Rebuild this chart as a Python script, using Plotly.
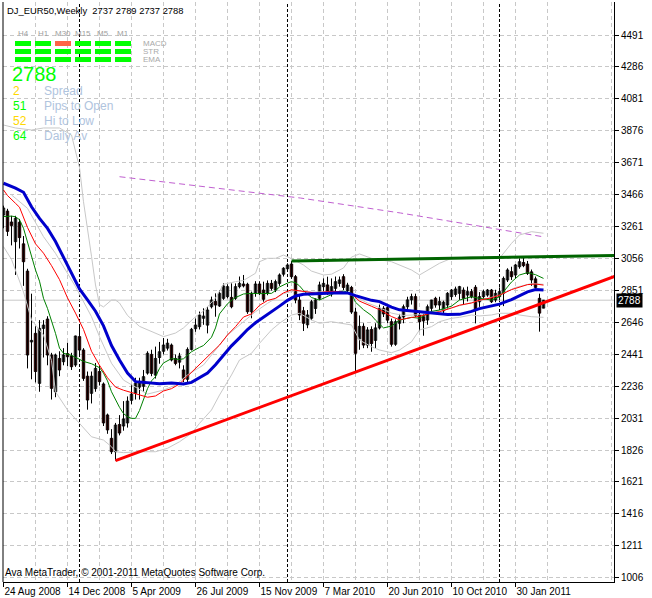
import plotly.graph_objects as go

# ---------------- data ----------------
symbol = "DJ_EUR50"
period = "Weekly"
x_label_bars = [0, 16, 32, 48, 64, 80, 96, 112, 128]
x_labels = ["24 Aug 2008", "14 Dec 2008", "5 Apr 2009", "26 Jul 2009", "15 Nov 2009",
            "7 Mar 2010", "20 Jun 2010", "10 Oct 2010", "30 Jan 2011"]
grid_bars = [8, 24, 40, 56, 72, 88, 104, 120, 136, 152]
y_ticks = [1006, 1211, 1416, 1621, 1826, 2031, 2236, 2441, 2646, 2851, 3056, 3261,
           3466, 3671, 3876, 4081, 4286, 4491]
year_sep_bars = [19, 71, 124]

opens = [3335, 3360, 3290, 3164, 3288, 3150, 2975, 2520, 2575, 2254,
         2607, 2667, 2436, 2200, 2414, 2393, 2445, 2430, 2372, 2554,
         2468, 2300, 2190, 2220, 2330, 2250, 2051, 1901, 1815, 1990,
         1980, 2000, 2145, 2190, 2230, 2235, 2320, 2440, 2307, 2420,
         2460, 2480, 2500, 2414, 2390, 2340, 2280, 2472, 2605, 2618,
         2672, 2628, 2746, 2780, 2751, 2800, 2811, 2806, 2800, 2875,
         2892, 2890, 2714, 2832, 2892, 2853, 2832, 2896, 2853, 2896,
         2955, 2990, 3020, 2939, 2789, 2720, 2630, 2672, 2735, 2800,
         2875, 2886, 2843, 2864, 2896, 2939, 2850, 2870, 2712, 2540,
         2620, 2500, 2600, 2530, 2610, 2736, 2740, 2650, 2505, 2640,
         2680, 2746, 2790, 2811, 2693, 2682, 2661, 2736, 2800, 2757,
         2720, 2757, 2811, 2825, 2832, 2853, 2821, 2843, 2871, 2778,
         2811, 2821, 2853, 2789, 2811, 2832, 2918, 2971, 2950, 3003,
         3030, 3020, 2970, 2925, 2800, 2737]
highs = [3395, 3375, 3330, 3330, 3310, 3200, 2990, 2830, 2620, 2660,
         2660, 2685, 2450, 2445, 2460, 2480, 2515, 2450, 2560, 2618,
         2480, 2330, 2330, 2385, 2370, 2260, 2060, 1960, 2000, 2050,
         2140, 2170, 2250, 2290, 2290, 2340, 2460, 2470, 2490, 2520,
         2545, 2540, 2510, 2440, 2450, 2370, 2485, 2610, 2670, 2715,
         2736, 2746, 2811, 2832, 2853, 2896, 2890, 2896, 2896, 2940,
         2950, 2900, 2843, 2910, 2910, 2907, 2915, 2918, 2920, 2960,
         3000, 3025, 3039, 2950, 2820, 2745, 2725, 2790, 2800, 2907,
         2928, 2939, 2928, 2940, 2940, 2955, 2900, 2880, 2740, 2690,
         2640, 2615, 2620, 2640, 2760, 2750, 2760, 2670, 2665, 2700,
         2760, 2810, 2830, 2830, 2720, 2700, 2760, 2790, 2810, 2810,
         2785, 2840, 2860, 2875, 2880, 2870, 2875, 2860, 2885, 2840,
         2855, 2860, 2860, 2855, 2870, 2940, 2993, 3003, 3020, 3057,
         3065, 3040, 2985, 2940, 2830, 2789]
lows = [3250, 3200, 3140, 2950, 3120, 2880, 2350, 2280, 2260, 2200,
        2420, 2370, 2150, 2165, 2300, 2370, 2365, 2340, 2360, 2440,
        2270, 2085, 2125, 2200, 2240, 1980, 1930, 1800, 1758, 1920,
        1950, 1970, 2120, 2150, 2150, 2200, 2310, 2300, 2285, 2380,
        2440, 2465, 2395, 2370, 2350, 2262, 2255, 2465, 2585, 2600,
        2630, 2575, 2735, 2682, 2745, 2790, 2800, 2736, 2790, 2864,
        2870, 2700, 2672, 2810, 2820, 2778, 2820, 2850, 2840, 2880,
        2940, 2970, 2925, 2768, 2660, 2590, 2608, 2660, 2700, 2790,
        2843, 2822, 2811, 2843, 2875, 2853, 2830, 2700, 2330, 2470,
        2480, 2480, 2457, 2480, 2600, 2680, 2640, 2490, 2495, 2600,
        2640, 2720, 2760, 2680, 2590, 2560, 2630, 2715, 2740, 2725,
        2700, 2730, 2790, 2810, 2790, 2760, 2780, 2800, 2639, 2745,
        2800, 2810, 2770, 2775, 2790, 2750, 2905, 2918, 2930, 2990,
        3000, 2950, 2880, 2850, 2586, 2737]
closes = [3380, 3230, 3268, 3314, 3190, 3035, 2436, 2530, 2330, 2607,
          2628, 2436, 2222, 2436, 2340, 2436, 2425, 2361, 2558, 2468,
          2286, 2147, 2300, 2350, 2265, 2000, 1955, 1815, 1986, 1935,
          2025, 2140, 2185, 2255, 2262, 2297, 2447, 2318, 2414, 2457,
          2500, 2512, 2404, 2382, 2430, 2285, 2472, 2601, 2628, 2693,
          2686, 2725, 2789, 2757, 2832, 2879, 2875, 2746, 2875, 2896,
          2880, 2714, 2832, 2892, 2832, 2794, 2896, 2864, 2907, 2950,
          2993, 3014, 2939, 2789, 2693, 2640, 2693, 2778, 2790, 2886,
          2896, 2843, 2875, 2907, 2918, 2870, 2885, 2712, 2447, 2620,
          2500, 2597, 2510, 2610, 2736, 2700, 2660, 2505, 2650, 2680,
          2746, 2790, 2811, 2690, 2650, 2655, 2746, 2789, 2757, 2779,
          2775, 2832, 2853, 2860, 2875, 2800, 2843, 2810, 2725, 2811,
          2843, 2853, 2778, 2832, 2843, 2928, 2982, 2939, 3014, 3035,
          3010, 2960, 2918, 2870, 2705, 2788]

# indicator lines (bar index, price)
blue_bars = [0, 3, 5, 7, 9, 11, 13, 15, 17, 19, 21, 23, 25, 27, 29, 31, 33, 36, 39, 42, 45, 47,
             49, 51, 53, 55, 57, 59, 61, 63, 65, 67, 69, 71, 73, 75, 78, 81, 84, 86, 88, 90,
             92, 94, 97, 99, 102, 105, 108, 111, 114, 117, 119, 122, 124, 127, 129, 131, 133, 135]
blue_vals = [3539, 3508, 3481, 3388, 3313, 3249, 3165, 3062, 2958, 2860, 2790, 2717, 2623, 2497,
             2404, 2320, 2265, 2256, 2251, 2256, 2250, 2260, 2290, 2320, 2373, 2437, 2495, 2546,
             2600, 2643, 2678, 2711, 2750, 2787, 2815, 2826, 2827, 2832, 2836, 2835, 2817, 2801,
             2787, 2779, 2743, 2726, 2718, 2712, 2706, 2696, 2697, 2716, 2734, 2752, 2763, 2792,
             2818, 2842, 2857, 2853]
red_bars = [0, 1, 3, 4, 6, 8, 10, 12, 14, 16, 18, 20, 22, 24, 26, 28, 30, 32, 34, 36, 38, 40,
            42, 44, 46, 48, 50, 52, 54, 56, 58, 60, 62, 64, 66, 68, 70, 72, 74, 76, 78, 81, 84,
            87, 89, 92, 94, 97, 99, 102, 104, 107, 109, 112, 114, 117, 119, 122, 124, 127, 129,
            131, 133, 135]
red_vals = [3496, 3460, 3410, 3385, 3255, 3150, 3090, 3010, 2920, 2803, 2705, 2600, 2460, 2370,
            2290, 2230, 2210, 2195, 2178, 2165, 2173, 2205, 2220, 2250, 2300, 2351, 2400, 2450,
            2500, 2565, 2618, 2680, 2700, 2755, 2786, 2800, 2835, 2855, 2847, 2838, 2834, 2843,
            2843, 2828, 2782, 2749, 2727, 2683, 2662, 2677, 2685, 2705, 2714, 2738, 2756, 2770,
            2788, 2803, 2820, 2856, 2873, 2888, 2892, 2885]
green_bars = [0, 2, 3, 4, 5, 6, 7, 8, 9, 10, 11, 12, 13, 14, 15, 17, 18, 20, 22, 24, 25, 26, 27,
              28, 29, 30, 31, 32, 33, 34, 35, 36, 37, 38, 39, 40, 42, 44, 45, 46, 47, 49, 50, 52,
              53, 54, 55, 56, 57, 58, 60, 62, 64, 66, 67, 68, 69, 71, 72, 73, 74, 75, 77, 79, 81,
              83, 85, 87, 88, 90, 92, 93, 95, 97, 99, 102, 104, 107, 109, 112, 114, 117, 119, 122,
              124, 127, 129, 131, 133, 135]
green_vals = [3325, 3328, 3324, 3305, 3250, 3160, 3060, 2982, 2910, 2800, 2735, 2660, 2575, 2480,
              2447, 2434, 2420, 2395, 2380, 2355, 2320, 2270, 2200, 2147, 2100, 2060, 2040, 2029,
              2029, 2080, 2150, 2220, 2270, 2297, 2350, 2385, 2413, 2407, 2412, 2435, 2457, 2485,
              2497, 2550, 2610, 2700, 2735, 2765, 2787, 2805, 2828, 2832, 2830, 2832, 2832, 2850,
              2873, 2898, 2907, 2900, 2880, 2850, 2805, 2789, 2812, 2836, 2847, 2832, 2775, 2727,
              2690, 2660, 2610, 2622, 2660, 2678, 2672, 2716, 2725, 2750, 2789, 2810, 2800, 2789,
              2810, 2905, 2950, 2965, 2952, 2928]
bb_up_bars = [0, 3, 7, 10, 14, 17, 19, 20, 22, 23, 24, 25, 27, 28, 29, 31, 34, 38, 40, 43, 45,
              48, 50, 53, 54, 55, 58, 60, 63, 64, 66, 68, 70, 72, 75, 77, 80, 82, 85, 87, 89, 92,
              97, 102, 104, 107, 109, 112, 117, 122, 124, 127, 129, 132, 135]
bb_up_vals = [3913, 3894, 3881, 3894, 3894, 3849, 3640, 3420, 3070, 2886, 2760, 2745, 2789, 2789,
              2770, 2690, 2620, 2577, 2554, 2577, 2610, 2682, 2718, 2802, 2850, 2890, 2907, 2915,
              2961, 3035, 3057, 3057, 3078, 3055, 3014, 2975, 2950, 2955, 2995, 3065, 3085, 3057,
              3035, 2982, 2950, 2993, 3025, 3057, 3067, 3057, 3057, 3153, 3207, 3228, 3218]
bb_mid_bars = [2, 6, 10, 13, 18, 22, 24, 27, 30, 33, 36, 40, 43, 46, 50, 53, 56, 60, 63, 66, 70,
               73, 77, 81, 85, 88, 91, 94, 97, 100, 104, 108, 112, 116, 120, 124, 128, 132, 135]
bb_mid_vals = [3464, 3378, 3196, 3089, 2875, 2682, 2554, 2383, 2275, 2232, 2185, 2211, 2243, 2308,
               2372, 2468, 2564, 2650, 2714, 2768, 2830, 2850, 2840, 2842, 2840, 2810, 2770, 2740,
               2705, 2690, 2695, 2712, 2740, 2768, 2793, 2820, 2870, 2895, 2890]
bb_lo_bars = [0, 2, 5, 7, 10, 12, 13, 16, 19, 22, 25, 27, 28, 30, 34, 38, 41, 44, 47, 49, 52, 54,
              57, 59, 62, 64, 67, 69, 72, 74, 77, 79, 82, 84, 87, 89, 92, 94, 97, 99, 102, 104,
              107, 109, 112, 114, 117, 119, 122, 124, 127, 129, 132, 135]
bb_lo_vals = [3132, 3050, 2841, 2661, 2564, 2400, 2200, 2083, 1997, 1911, 1890, 1847, 1815, 1809,
              1815, 1815, 1837, 1879, 1933, 1997, 2083, 2179, 2308, 2404, 2447, 2511, 2597, 2640,
              2693, 2704, 2661, 2640, 2650, 2640, 2629, 2532, 2489, 2468, 2451, 2468, 2521, 2597,
              2618, 2650, 2672, 2678, 2693, 2687, 2693, 2704, 2704, 2693, 2682, 2678]
long_ma_bars = [29, 49.25, 74.25, 99.25, 125, 134.75]
long_ma_vals = [3581, 3521, 3444, 3348, 3239, 3196]

support_bars = [28, 152.75]
support_vals = [1758, 2940]
resist_bars = [72, 152.75]
resist_vals = [3039, 3075]

# info panel
tf_labels = ["H4", "H1", "M30", "M15", "M5", "M1"]
sig_rows = ["MACD", "STR", "EMA"]
sig_states = [[1, 1, 0, 1, 1, 1],
              [1, 1, 1, 1, 1, 1],
              [1, 1, 1, 1, 1, 1]]
spread = 2
daily_avg = 64
info_labels = ["Spread", "Pips to Open", "Hi to Low", "Daily Av"]

n = len(closes)
assert len(opens) == n and len(highs) == n and len(lows) == n

# ---------------- geometry ----------------
W, H = 652, 598
PL, PR, PT, PB = 3, 614, 2, 582
K = (577.7 - 35.0) / (4491 - 1006)          # px per price unit
y_top = 4491 + (35 - PT) / K
y_bot = 4491 - (PB - 35) / K
x_lo = -0.125
x_hi = x_lo + (PR - PL) / 4.0

def px_x(p):
    return (p - PL) / (PR - PL)

def px_y(p):
    return (PB - p) / (PB - PT)

FONT = "Liberation Sans, Arial, sans-serif"
GRID = "#c8c8c8"

fig = go.Figure()

# wicks
wx, wy = [], []
for j in range(n):
    wx += [j, j, None]
    wy += [lows[j], highs[j], None]
fig.add_trace(go.Scatter(x=wx, y=wy, mode="lines", line=dict(color="black", width=1),
                         hoverinfo="skip", showlegend=False))
bull = [j for j in range(n) if closes[j] >= opens[j]]
bear = [j for j in range(n) if closes[j] < opens[j]]
fig.add_trace(go.Bar(x=bull, y=[closes[j] - opens[j] for j in bull], base=[opens[j] for j in bull],
                     width=0.6, marker=dict(color="white", line=dict(color="black", width=1)),
                     hoverinfo="skip", showlegend=False))
fig.add_trace(go.Bar(x=bear, y=[opens[j] - closes[j] for j in bear], base=[closes[j] for j in bear],
                     width=0.6, marker=dict(color="#ff0000", line=dict(color="black", width=1)),
                     hoverinfo="skip", showlegend=False))

def line(xs, ys, color, width, dash=None):
    fig.add_trace(go.Scatter(x=xs, y=ys, mode="lines",
                             line=dict(color=color, width=width, dash=dash),
                             hoverinfo="skip", showlegend=False))

line(bb_up_bars, bb_up_vals, "#c8c8c8", 1)
line(bb_lo_bars, bb_lo_vals, "#c8c8c8", 1)
line(bb_mid_bars, bb_mid_vals, "#c8c8c8", 1)
line(green_bars, green_vals, "#008000", 1)
line(red_bars, red_vals, "#ff0000", 1)
line(blue_bars, blue_vals, "#0000cc", 3)
line(long_ma_bars, long_ma_vals, "#c060d0", 1, "6px,4px")
line(support_bars, support_vals, "#ff0000", 3)
line(resist_bars, resist_vals, "#006400", 3)

shapes = []
shapes.append(dict(type="line", xref="paper", yref="paper", x0=0, x1=0, y0=0, y1=1,
                   line=dict(color="black", width=1)))
for b in year_sep_bars:
    shapes.append(dict(type="line", xref="x", yref="paper", x0=b, x1=b, y0=0, y1=1,
                       line=dict(color="black", width=1, dash="3px,2px"), layer="below"))
shapes.append(dict(type="line", xref="paper", yref="y", x0=0, x1=1, y0=closes[-1], y1=closes[-1],
                   line=dict(color="#c8c8c8", width=1), layer="below"))
for r in range(3):
    for c in range(6):
        col = "#00ff00" if sig_states[r][c] else "#ff6347"
        x0 = 15 + 20 * c
        y0 = 41 + 8 * r
        shapes.append(dict(type="rect", xref="paper", yref="paper",
                           x0=px_x(x0), x1=px_x(x0 + 16), y0=px_y(y0 + 5), y1=px_y(y0),
                           fillcolor=col, line=dict(width=0), layer="above"))

ann = []
ann.append(dict(x=px_x(5), y=px_y(11), xref="paper", yref="paper", xanchor="left", yanchor="middle",
                text=f"{symbol},{period}  {opens[-1]} {highs[-1]} {lows[-1]} {closes[-1]}",
                showarrow=False, font=dict(family=FONT, size=9.4, color="black")))
for c, t in enumerate(tf_labels):
    ann.append(dict(x=px_x(23 + 20 * c), y=px_y(33), xref="paper", yref="paper",
                    xanchor="center", yanchor="middle", text=t, showarrow=False,
                    font=dict(family=FONT, size=8, color="#a0a0a0")))
for r, t in enumerate(sig_rows):
    ann.append(dict(x=px_x(142), y=px_y(43.5 + 8 * r), xref="paper", yref="paper",
                    xanchor="left", yanchor="middle", text=t, showarrow=False, borderpad=0,
                    font=dict(family=FONT, size=8, color="#a9a9a9")))
ann.append(dict(x=px_x(11), y=px_y(74), xref="paper", yref="paper", xanchor="left",
                yanchor="middle", text=str(closes[-1]), showarrow=False, borderpad=0,
                font=dict(family=FONT, size=20, color="#00ff00")))
info_vals = [spread, closes[-1] - opens[-1], highs[-1] - lows[-1], daily_avg]
info_cols = ["#ffd700", "#00ff00", "#ffd700", "#00ff00"]
for r in range(4):
    yy = px_y(90.5 + 15.2 * r)
    ann.append(dict(x=px_x(11.5), y=yy, xref="paper", yref="paper", xanchor="left",
                    yanchor="middle", text=str(info_vals[r]), showarrow=False, borderpad=0,
                    font=dict(family=FONT, size=12, color=info_cols[r])))
    ann.append(dict(x=px_x(42.5), y=yy, xref="paper", yref="paper", xanchor="left",
                    yanchor="middle", text=info_labels[r], showarrow=False, borderpad=0,
                    font=dict(family=FONT, size=12, color="#b0c4de")))
ann.append(dict(x=px_x(3), y=px_y(572), xref="paper", yref="paper", xanchor="left",
                yanchor="middle", text="Ava MetaTrader, © 2001-2011 MetaQuotes Software Corp.",
                showarrow=False, font=dict(family=FONT, size=10, color="black")))
ann.append(dict(x=1, y=closes[-1], xref="paper", yref="y", xanchor="left", yanchor="middle",
                xshift=2, text=str(closes[-1]), showarrow=False, bgcolor="black", borderpad=1,
                font=dict(family=FONT, size=10, color="white")))

fig.update_layout(
    width=W, height=H,
    margin=dict(l=PL, r=W - PR, t=PT, b=H - PB, pad=0, autoexpand=False),
    paper_bgcolor="white", plot_bgcolor="white",
    barmode="overlay", showlegend=False,
    shapes=shapes, annotations=ann,
    font=dict(family=FONT, size=10, color="black"),
    xaxis=dict(range=[x_lo, x_hi], tickmode="array", tickvals=x_label_bars, ticktext=x_labels,
               ticks="outside", ticklen=4, tickcolor="black", ticklabelposition="outside right",
               tickangle=0, automargin=False,
               showline=True, linecolor="black", linewidth=1, zeroline=False,
               showgrid=True, gridcolor=GRID, griddash="4px,3px", gridwidth=1,
               minor=dict(tickmode="array", tickvals=grid_bars, showgrid=True, gridcolor=GRID,
                          griddash="4px,3px", ticks=""),
               tickfont=dict(family=FONT, size=10, color="black")),
    yaxis=dict(range=[y_bot, y_top], side="right", tickmode="array", tickvals=y_ticks,
               ticks="outside", ticklen=4, tickcolor="black", automargin=False,
               showline=True, linecolor="black", linewidth=1, zeroline=False,
               showgrid=True, gridcolor=GRID, griddash="4px,3px", gridwidth=1,
               tickfont=dict(family=FONT, size=10, color="black")),
)

fig.write_html("out.html", config={"displayModeBar": False},
               post_script="document.body.style.margin='0';document.body.style.overflow='hidden';")
